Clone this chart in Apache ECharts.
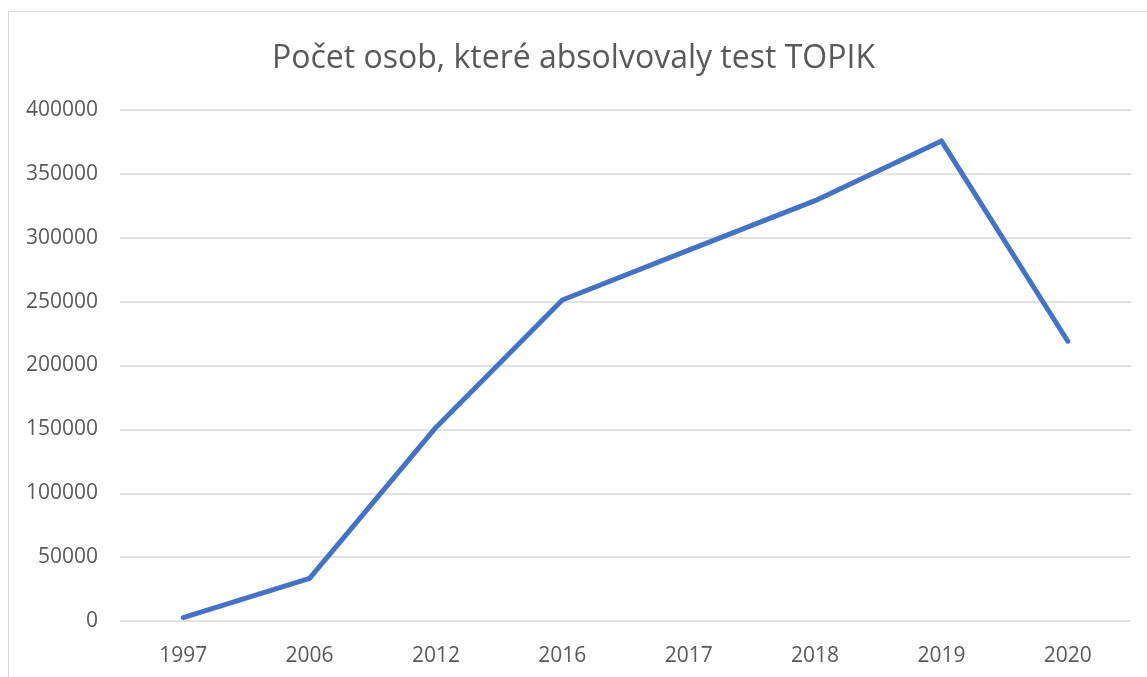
<!DOCTYPE html>
<html>
<head>
<meta charset="utf-8">
<script src="https://cdn.jsdelivr.net/npm/echarts@6/dist/echarts.min.js"></script>
<style>
html,body{margin:0;padding:0;overflow:hidden;background:#fff;}
#frame{position:absolute;left:8px;top:11px;width:1300px;height:800px;border:1.5px solid #d9d9d9;box-sizing:border-box;}
#chart{position:absolute;left:0;top:0;width:1147px;height:677px;}
</style>
</head>
<body>
<div id="frame"></div>
<div id="chart"></div>
<script>
const titleText = 'Počet osob, které absolvovaly test TOPIK';
const years = ['1997', '2006', '2012', '2016', '2017', '2018', '2019', '2020'];
const participants = [2700, 33300, 151500, 251300, 290300, 329000, 375800, 219000];
const yMin = 0, yMax = 400000, yStep = 50000;

const chart = echarts.init(document.getElementById('chart'), null, {renderer: 'canvas'});
const font = 'Open Sans, Calibri, sans-serif';
chart.setOption({
  animation: false,
  title: {
    text: titleText,
    left: 'center',
    top: 38,
    textStyle: {fontFamily: font, fontSize: 32, fontWeight: 'normal', color: '#595959'}
  },
  grid: {left: 120, right: 16, top: 110, bottom: 56, containLabel: false},
  xAxis: {
    type: 'category',
    data: years,
    boundaryGap: true,
    axisLine: {show: false},
    axisTick: {show: false},
    axisLabel: {fontFamily: font, fontSize: 21, color: '#595959', margin: 25}
  },
  yAxis: {
    type: 'value',
    min: yMin, max: yMax, interval: yStep,
    axisLine: {show: false},
    axisTick: {show: false},
    axisLabel: {fontFamily: font, fontSize: 21, color: '#595959', margin: 22,
      formatter: function (v) { return String(v); }},
    splitLine: {lineStyle: {color: '#d9d9d9', width: 1.5}}
  },
  series: [{
    type: 'line',
    data: participants,
    symbol: 'none',
    lineStyle: {color: '#4472C4', width: 5, cap: 'round', join: 'round'}
  }]
});
</script>
</body>
</html>
